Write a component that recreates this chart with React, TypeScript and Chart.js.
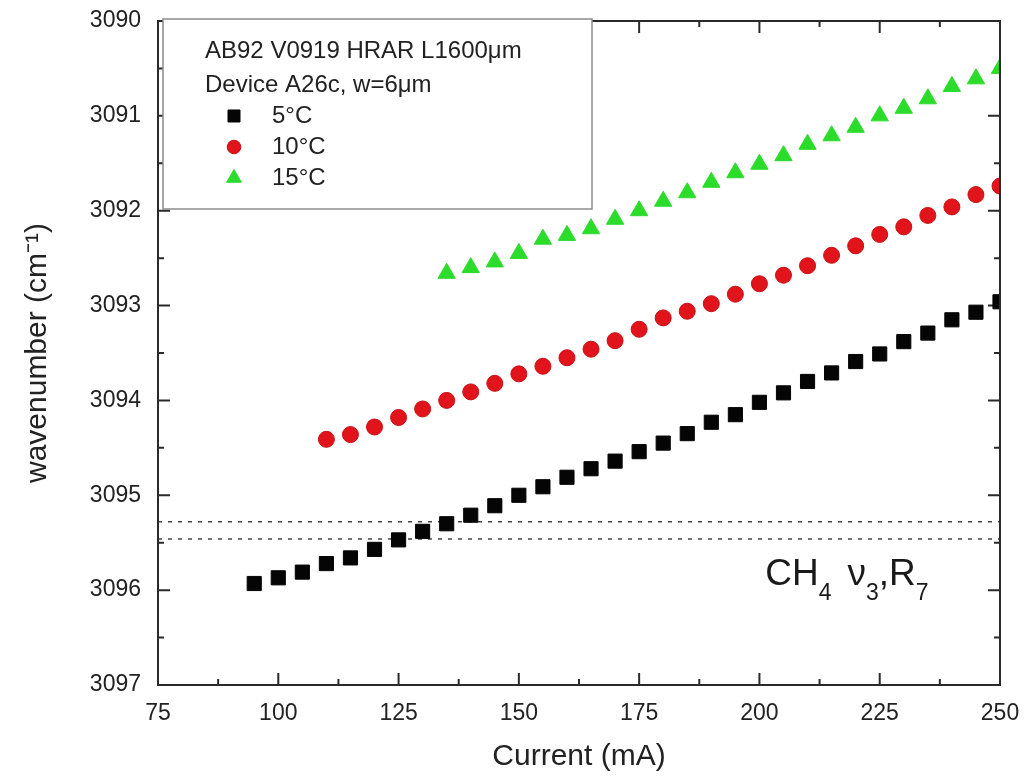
import React, { useEffect, useRef } from 'react';
import { Chart, registerables } from 'chart.js';
import { drawPoint } from 'chart.js/helpers';

Chart.register(...registerables);

// ---- data ----
const current5 = [95, 100, 105, 110, 115, 120, 125, 130, 135, 140, 145, 150, 155, 160, 165, 170, 175, 180, 185, 190, 195, 200, 205, 210, 215, 220, 225, 230, 235, 240, 245, 250];
const wn5 = [3095.93, 3095.87, 3095.81, 3095.72, 3095.66, 3095.57, 3095.47, 3095.38, 3095.30, 3095.21, 3095.11, 3095.00, 3094.91, 3094.81, 3094.72, 3094.64, 3094.54, 3094.45, 3094.35, 3094.23, 3094.15, 3094.02, 3093.92, 3093.80, 3093.71, 3093.59, 3093.51, 3093.38, 3093.29, 3093.15, 3093.07, 3092.96];

const current10 = [110, 115, 120, 125, 130, 135, 140, 145, 150, 155, 160, 165, 170, 175, 180, 185, 190, 195, 200, 205, 210, 215, 220, 225, 230, 235, 240, 245, 250];
const wn10 = [3094.41, 3094.36, 3094.28, 3094.18, 3094.09, 3094.00, 3093.91, 3093.82, 3093.72, 3093.64, 3093.55, 3093.46, 3093.37, 3093.25, 3093.13, 3093.06, 3092.98, 3092.88, 3092.77, 3092.68, 3092.58, 3092.47, 3092.37, 3092.25, 3092.17, 3092.05, 3091.96, 3091.83, 3091.74];

const current15 = [135, 140, 145, 150, 155, 160, 165, 170, 175, 180, 185, 190, 195, 200, 205, 210, 215, 220, 225, 230, 235, 240, 245, 250];
const wn15 = [3092.66, 3092.60, 3092.54, 3092.45, 3092.30, 3092.26, 3092.19, 3092.09, 3092.00, 3091.90, 3091.81, 3091.70, 3091.60, 3091.51, 3091.42, 3091.30, 3091.21, 3091.12, 3091.00, 3090.92, 3090.82, 3090.69, 3090.61, 3090.50];

const seriesLabels = ['5°C', '10°C', '15°C'];
const headerLines = ['AB92 V0919 HRAR L1600\u03bcm', 'Device A26c, w=6\u03bcm'];
const refLineX = [75, 250];
const refLineValues = [3095.28, 3095.46];
const xTickValues = [75, 100, 125, 150, 175, 200, 225, 250];
const yTickValues = [3090, 3091, 3092, 3093, 3094, 3095, 3096, 3097];
const xTitle = 'Current (mA)';
const yTitle = 'wavenumber (cm\u207b\u00b9)';

const FONT = "'Liberation Sans', Arial, Helvetica, sans-serif";

const decorPlugin = {
  id: 'decor',
  beforeDatasetsDraw(chart: any) {
    const { ctx, chartArea: a, scales } = chart;
    const x = scales.x;
    const y = scales.y;
    ctx.save();
    ctx.strokeStyle = '#2a2a2a';
    ctx.lineWidth = 2;
    const xStep = xTickValues[1] - xTickValues[0];
    for (let i = 0; i < xTickValues.length; i++) {
      const v = xTickValues[i];
      const marks = [{ v, len: 12 }];
      if (i < xTickValues.length - 1) marks.push({ v: v + xStep / 2, len: 6 });
      for (const m of marks) {
        const px = x.getPixelForValue(m.v);
        ctx.beginPath();
        ctx.moveTo(px, a.bottom);
        ctx.lineTo(px, a.bottom - m.len);
        ctx.moveTo(px, a.top);
        ctx.lineTo(px, a.top + m.len);
        ctx.stroke();
      }
    }
    const yStep = yTickValues[1] - yTickValues[0];
    for (let i = 0; i < yTickValues.length; i++) {
      const v = yTickValues[i];
      const marks = [{ v, len: 12 }];
      if (i < yTickValues.length - 1) marks.push({ v: v + yStep / 2, len: 6 });
      for (const m of marks) {
        const py = y.getPixelForValue(m.v);
        ctx.beginPath();
        ctx.moveTo(a.left, py);
        ctx.lineTo(a.left + m.len, py);
        ctx.moveTo(a.right, py);
        ctx.lineTo(a.right - m.len, py);
        ctx.stroke();
      }
    }
    // annotation CH4 v3,R7
    const ax = x.getPixelForValue(201.2);
    const ay = y.getPixelForValue(3095.95);
    const big = `37px ${FONT}`;
    const small = `23px ${FONT}`;
    ctx.fillStyle = '#1a1a1a';
    ctx.textBaseline = 'alphabetic';
    ctx.textAlign = 'left';
    let cx = ax;
    const put = (t: string, f: string, dy: number) => {
      ctx.font = f;
      ctx.fillText(t, cx, ay + dy);
      cx += ctx.measureText(t).width;
    };
    put('CH', big, 0);
    put('4', small, 15);
    cx += 16;
    put('\u03bd', big, 0);
    put('3', small, 15);
    put(',', big, 0);
    put('R', big, 0);
    put('7', small, 15);
    ctx.restore();
  },
  afterDraw(chart: any) {
    const { ctx, chartArea: a } = chart;
    ctx.save();
    ctx.strokeStyle = '#2a2a2a';
    ctx.lineWidth = 2;
    ctx.strokeRect(a.left, a.top, a.right - a.left, a.bottom - a.top);
    const bx = 163, by = 19, bw = 429, bh = 190;
    ctx.fillStyle = '#ffffff';
    ctx.fillRect(bx, by, bw, bh);
    ctx.strokeStyle = '#8c8c8c';
    ctx.lineWidth = 1.5;
    ctx.strokeRect(bx, by, bw, bh);
    ctx.fillStyle = '#222';
    ctx.font = `24px ${FONT}`;
    ctx.textBaseline = 'middle';
    ctx.textAlign = 'left';
    ctx.fillText(headerLines[0], 205, 51);
    ctx.fillText(headerLines[1], 205, 85);
    const rows = [116, 147, 178];
    chart.data.datasets.slice(0, 3).forEach((ds: any, i: number) => {
      ctx.fillStyle = ds.backgroundColor;
      ctx.strokeStyle = ds.borderColor;
      ctx.lineWidth = 1;
      drawPoint(ctx, { pointStyle: ds.pointStyle, radius: ds.pointRadius * 0.85, rotation: 0, borderWidth: 1 }, 234, rows[i]);
      ctx.fillStyle = '#222';
      ctx.fillText(ds.label, 272, rows[i]);
    });
    ctx.restore();
  },
};

export default function App() {
  const ref = useRef<HTMLCanvasElement | null>(null);
  useEffect(() => {
    if (!ref.current) return;
    Chart.defaults.font.family = FONT;
    const chart = new Chart(ref.current, {
      type: 'scatter',
      data: {
        datasets: [
          {
            label: seriesLabels[0],
            data: current5.map((c, i) => ({ x: c, y: wn5[i] })),
            pointStyle: 'rect',
            pointRadius: 10,
            backgroundColor: '#050505',
            borderColor: '#050505',
            borderWidth: 1,
            clip: 0,
          },
          {
            label: seriesLabels[1],
            data: current10.map((c, i) => ({ x: c, y: wn10[i] })),
            pointStyle: 'circle',
            pointRadius: 8,
            backgroundColor: '#e0141a',
            borderColor: '#c81016',
            borderWidth: 1,
            clip: 0,
          },
          {
            label: seriesLabels[2],
            data: current15.map((c, i) => ({ x: c, y: wn15[i] })),
            pointStyle: 'triangle',
            pointRadius: 10,
            backgroundColor: '#2bdc2b',
            borderColor: '#2bdc2b',
            borderWidth: 1,
            clip: 0,
          },
          ...refLineValues.map((v) => ({
            type: 'line' as const,
            label: 'ref',
            data: refLineX.map((xv) => ({ x: xv, y: v })),
            borderColor: '#444',
            borderWidth: 1.5,
            borderDash: [4, 6],
            pointRadius: 0,
            showLine: true,
            fill: false,
          })),
        ],
      },
      options: {
        responsive: false,
        animation: false,
        devicePixelRatio: 1,
        layout: { padding: { top: 21, right: 26, left: 0, bottom: 0 } },
        plugins: { legend: { display: false }, tooltip: { enabled: false } },
        scales: {
          x: {
            type: 'linear',
            min: 75,
            max: 250,
            grid: { display: false, drawTicks: false },
            border: { display: false },
            afterBuildTicks: (s: any) => { s.ticks = xTickValues.map((v) => ({ value: v })); },
            afterFit: (s: any) => { s.height = 94; s.paddingLeft = 0; s.paddingRight = 0; },
            ticks: {
              padding: 15,
              color: '#222',
              font: { size: 23 },
              maxRotation: 0,
              callback: (v: any) => String(v),
            },
            title: { display: true, text: xTitle, color: '#222', font: { size: 30 }, padding: { bottom: 4, top: 0 } },
          },
          y: {
            type: 'linear',
            min: 3090,
            max: 3097,
            reverse: true,
            grid: { display: false, drawTicks: false },
            border: { display: false },
            afterBuildTicks: (s: any) => { s.ticks = yTickValues.map((v) => ({ value: v })); },
            afterFit: (s: any) => { s.width = 158; s.paddingTop = 0; s.paddingBottom = 0; },
            ticks: {
              padding: 17,
              color: '#222',
              font: { size: 23 },
              callback: (v: any) => String(v),
            },
            title: { display: true, text: yTitle, color: '#222', font: { size: 30 }, padding: { top: 20, bottom: 0 } },
          },
        },
      },
      plugins: [decorPlugin],
    });
    return () => chart.destroy();
  }, []);
  return (
    <div style={{ position: 'absolute', left: 0, top: 0, width: 1026, height: 779, background: '#fff' }}>
      <canvas ref={ref} width={1026} height={779} />
    </div>
  );
}
